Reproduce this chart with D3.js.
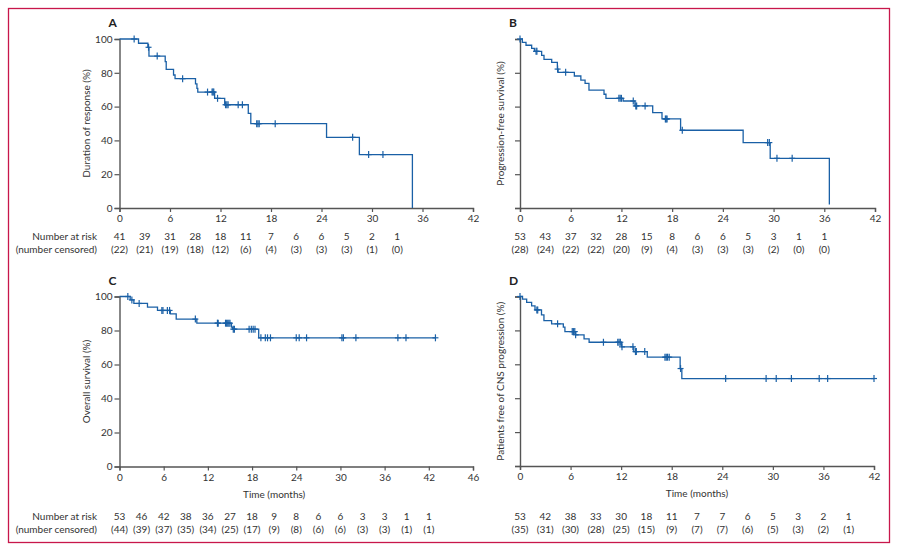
<!DOCTYPE html>
<html><head><meta charset="utf-8">
<script src="https://cdn.jsdelivr.net/npm/d3@7"></script>
<style>body{margin:0;background:#fff}svg{display:block}text{font-family:Lato,"Noto Sans",sans-serif}</style>
</head><body>
<script>
// ---------- DATA ----------
// Panel A: Duration of response
const aDropTimes = [0, 2.26, 3.37, 3.5, 5.43, 5.55, 6.42, 6.6, 9.03, 9.2, 9.3, 11.3, 12.5, 15.3, 15.6, 24.6, 28.5, 34.8];
const aDropVals  = [100, 97.5, 95.1, 89.9, 86.6, 82, 78.7, 76.5, 73.4, 70.8, 68.6, 64.9, 61.1, 56, 49.9, 41.8, 31.6, 0];
const aCensor    = [1.74, 3.45, 4.48, 7.5, 10.46, 11.0, 11.1, 11.2, 11.65, 12.6, 12.75, 12.9, 14.1, 14.6, 16.3, 16.45, 16.6, 18.5, 27.7, 29.6, 31.3];
const aRisk      = [41, 39, 31, 28, 18, 11, 7, 6, 6, 5, 2, 1];
const aCens      = [22, 21, 19, 18, 12, 6, 4, 3, 3, 3, 1, 0];

// Panel B: Progression-free survival
const bDropTimes = [0, 0.28, 0.71, 1.38, 1.7, 2.56, 2.84, 3.75, 4.42, 4.5, 6.43, 7.2, 7.7, 8.16, 9.94, 10.17, 12.2, 13.6, 15.7, 16.8, 19.0, 26.4, 29.6, 36.6];
const bDropVals  = [100, 98, 96.3, 94.5, 92.7, 90.3, 88, 86.2, 82.2, 80.3, 78.1, 75.7, 73.8, 69.8, 67.3, 64.9, 63.3, 60.4, 56.4, 52.7, 46, 38.7, 29.4, 2];
const bCensor    = [0, 1.9, 2.0, 4.45, 5.4, 11.7, 11.85, 12.0, 13.4, 13.7, 13.8, 14.8, 17.2, 17.3, 17.4, 19.2, 29.3, 29.5, 30.4, 32.2];
const bRisk      = [53, 43, 37, 32, 28, 15, 8, 6, 6, 5, 3, 1, 1];
const bCens      = [28, 24, 22, 22, 20, 9, 4, 3, 3, 3, 2, 0, 0];

// Panel C: Overall survival
const cDropTimes = [0, 1.45, 1.95, 3.8, 5.16, 6.9, 7.7, 10.5, 15.2, 15.35, 18.9];
const cDropVals  = [100, 98, 95.9, 93.7, 91.8, 89.8, 86.7, 84.3, 82, 80.8, 75.7];
const cCensor    = [1.13, 1.68, 2.67, 5.75, 5.9, 6.5, 6.8, 10.3, 13.3, 13.4, 14.4, 14.55, 14.7, 14.85, 15.0, 15.45, 15.6, 17.6, 17.9, 18.15, 18.4, 19.2, 19.8, 20.1, 20.5, 24.0, 24.4, 25.4, 30.2, 30.4, 32.1, 37.8, 38.9, 42.9];
const cRisk      = [53, 46, 42, 38, 36, 27, 18, 9, 8, 6, 6, 3, 3, 1, 1];
const cCens      = [44, 39, 37, 35, 34, 25, 17, 9, 8, 6, 6, 3, 3, 1, 1];

// Panel D: Patients free of CNS progression
const dDropTimes = [0, 0.3, 0.79, 1.38, 1.78, 2.55, 2.84, 3.75, 5.14, 5.33, 6.6, 7.6, 8.2, 12.05, 13.5, 15.1, 19.0, 19.2];
const dDropVals  = [100, 98.4, 96.5, 94.5, 92.1, 89.2, 85.8, 83.9, 81.9, 79.3, 77.4, 75, 73, 70.3, 67.5, 64.2, 57.5, 51.6];
const dCensor    = [0, 2.0, 2.1, 4.46, 6.2, 6.35, 6.5, 6.6, 9.9, 11.6, 11.75, 11.9, 12.1, 13.4, 13.7, 13.8, 14.8, 17.2, 17.35, 17.5, 17.7, 19.05, 24.4, 29.2, 30.4, 32.2, 35.5, 36.5, 42.0];
const dRisk      = [53, 42, 38, 33, 30, 18, 11, 7, 7, 6, 5, 3, 2, 1];
const dCens      = [35, 31, 30, 28, 25, 15, 9, 7, 7, 6, 5, 3, 2, 1];

const yTicks = [0, 20, 40, 60, 80, 100];
const xTicksAB = [0, 6, 12, 18, 24, 30, 36, 42];
const xTicksC = [0, 6, 12, 18, 24, 30, 36, 42, 48];
const xTickLabelsC = ["0", "6", "12", "18", "24", "30", "36", "42", "46"];
const xTicksD = [0, 6, 12, 18, 24, 30, 36, 42];

// ---------- DRAWING ----------
const W = 899, H = 550;
const svg = d3.select("body").append("svg").attr("width", W).attr("height", H);
svg.append("rect").attr("x", 8.5).attr("y", 8.5).attr("width", 881).attr("height", 534)
  .attr("fill", "none").attr("stroke", "#c8174b").attr("stroke-width", 1.3);

const lineColor = "#1a60a6";
const axisColor = "#555";

const panels = [
  {label: "A", x0: 119.5, x1: 473, y0: 208, y1: 39, xmax: 42, ticks: xTicksAB, tickLabels: null, ylab: "Duration of response (%)", yTickLabels: true,
   t: aDropTimes, v: aDropVals, c: aCensor, risk: aRisk, cens: aCens, riskY: 240, xTitle: false, rowLabels: true},
  {label: "B", x0: 520, x1: 875, y0: 208, y1: 39, xmax: 42, ticks: xTicksAB, tickLabels: null, ylab: "Progression-free survival (%)", yTickLabels: false,
   t: bDropTimes, v: bDropVals, c: bCensor, risk: bRisk, cens: bCens, riskY: 240, xTitle: false, rowLabels: false},
  {label: "C", x0: 119.5, x1: 473, y0: 466.5, y1: 296.5, xmax: 48, ticks: xTicksC, tickLabels: xTickLabelsC, ylab: "Overall survival (%)", yTickLabels: true,
   t: cDropTimes, v: cDropVals, c: cCensor, risk: cRisk, cens: cCens, riskY: 520, xTitle: true, rowLabels: true},
  {label: "D", x0: 520, x1: 874, y0: 466, y1: 296.5, xmax: 42, ticks: xTicksD, tickLabels: null, ylab: "Patients free of CNS progression (%)", yTickLabels: false,
   t: dDropTimes, v: dDropVals, c: dCensor, risk: dRisk, cens: dCens, riskY: 520, xTitle: true, rowLabels: false}
];

panels.forEach(p => {
  const x = d3.scaleLinear().domain([0, p.xmax]).range([p.x0, p.x1]);
  const y = d3.scaleLinear().domain([0, 100]).range([p.y0, p.y1]);
  const g = svg.append("g");

  const xa = d3.axisBottom(x).tickValues(p.ticks).tickSize(4).tickPadding(3)
    .tickFormat((d, i) => p.tickLabels ? p.tickLabels[i] : d);
  const ya = d3.axisLeft(y).tickValues(yTicks).tickSize(5).tickPadding(2)
    .tickFormat(d => p.yTickLabels ? d : "");
  const gx = g.append("g").attr("transform", `translate(0,${p.y0})`).call(xa);
  const gy = g.append("g").attr("transform", `translate(${p.x0},0)`).call(ya);
  [gx, gy].forEach(a => {
    a.select(".domain").attr("stroke", axisColor).attr("stroke-width", 1.4);
    a.selectAll(".tick line").attr("stroke", axisColor).attr("stroke-width", 1.2);
    a.selectAll("text").attr("fill", "#333").style("font-size", "10px").style("font-family", "Lato, sans-serif");
  });

  g.append("text").attr("x", p.x0 - 11).attr("y", p.y1 - 12).text(p.label)
    .style("font-weight", "bold").style("font-size", "12px").attr("fill", "#222");

  g.append("text").attr("transform", `translate(${p.label === "A" || p.label === "C" ? 90 : 504},${(p.y0 + p.y1) / 2}) rotate(-90)`)
    .attr("text-anchor", "middle").style("font-size", "10px").attr("fill", "#333").text(p.ylab);

  if (p.xTitle) {
    g.append("text").attr("x", (p.x0 + x(42)) / 2).attr("y", p.y0 + 31).attr("text-anchor", "middle")
      .style("font-size", "10px").attr("fill", "#333").text("Time (months)");
  }

  const lastT = Math.max(p.t[p.t.length - 1], d3.max(p.c));
  const pts = p.t.map((t, i) => [t, p.v[i]]);
  pts.push([lastT, p.v[p.v.length - 1]]);
  const line = d3.line().x(d => x(d[0])).y(d => y(d[1])).curve(d3.curveStepAfter);
  g.append("path").attr("d", line(pts)).attr("fill", "none").attr("stroke", lineColor).attr("stroke-width", 1.3);

  const valAt = t => { let v = p.v[0]; for (let i = 0; i < p.t.length; i++) { if (p.t[i] <= t) v = p.v[i]; } return v; };
  p.c.forEach(t => {
    const cx = x(t), cy = y(valAt(t));
    g.append("line").attr("x1", cx).attr("x2", cx).attr("y1", cy - 3.5).attr("y2", cy + 3.5).attr("stroke", lineColor).attr("stroke-width", 1.2);
    g.append("line").attr("x1", cx - 3).attr("x2", cx + 3).attr("y1", cy).attr("y2", cy).attr("stroke", lineColor).attr("stroke-width", 1.2);
  });

  p.risk.forEach((n, i) => {
    g.append("text").attr("x", x(i * 3)).attr("y", p.riskY).attr("text-anchor", "middle")
      .style("font-size", "10px").attr("fill", "#333").text(n);
    g.append("text").attr("x", x(i * 3)).attr("y", p.riskY + 13).attr("text-anchor", "middle")
      .style("font-size", "10px").attr("fill", "#333").text("(" + p.cens[i] + ")");
  });
  if (p.rowLabels) {
    g.append("text").attr("x", 97).attr("y", p.riskY).attr("text-anchor", "end")
      .style("font-size", "10px").attr("fill", "#333").text("Number at risk");
    g.append("text").attr("x", 97).attr("y", p.riskY + 13).attr("text-anchor", "end")
      .style("font-size", "10px").attr("fill", "#333").text("(number censored)");
  }
});
</script>
</body></html>
